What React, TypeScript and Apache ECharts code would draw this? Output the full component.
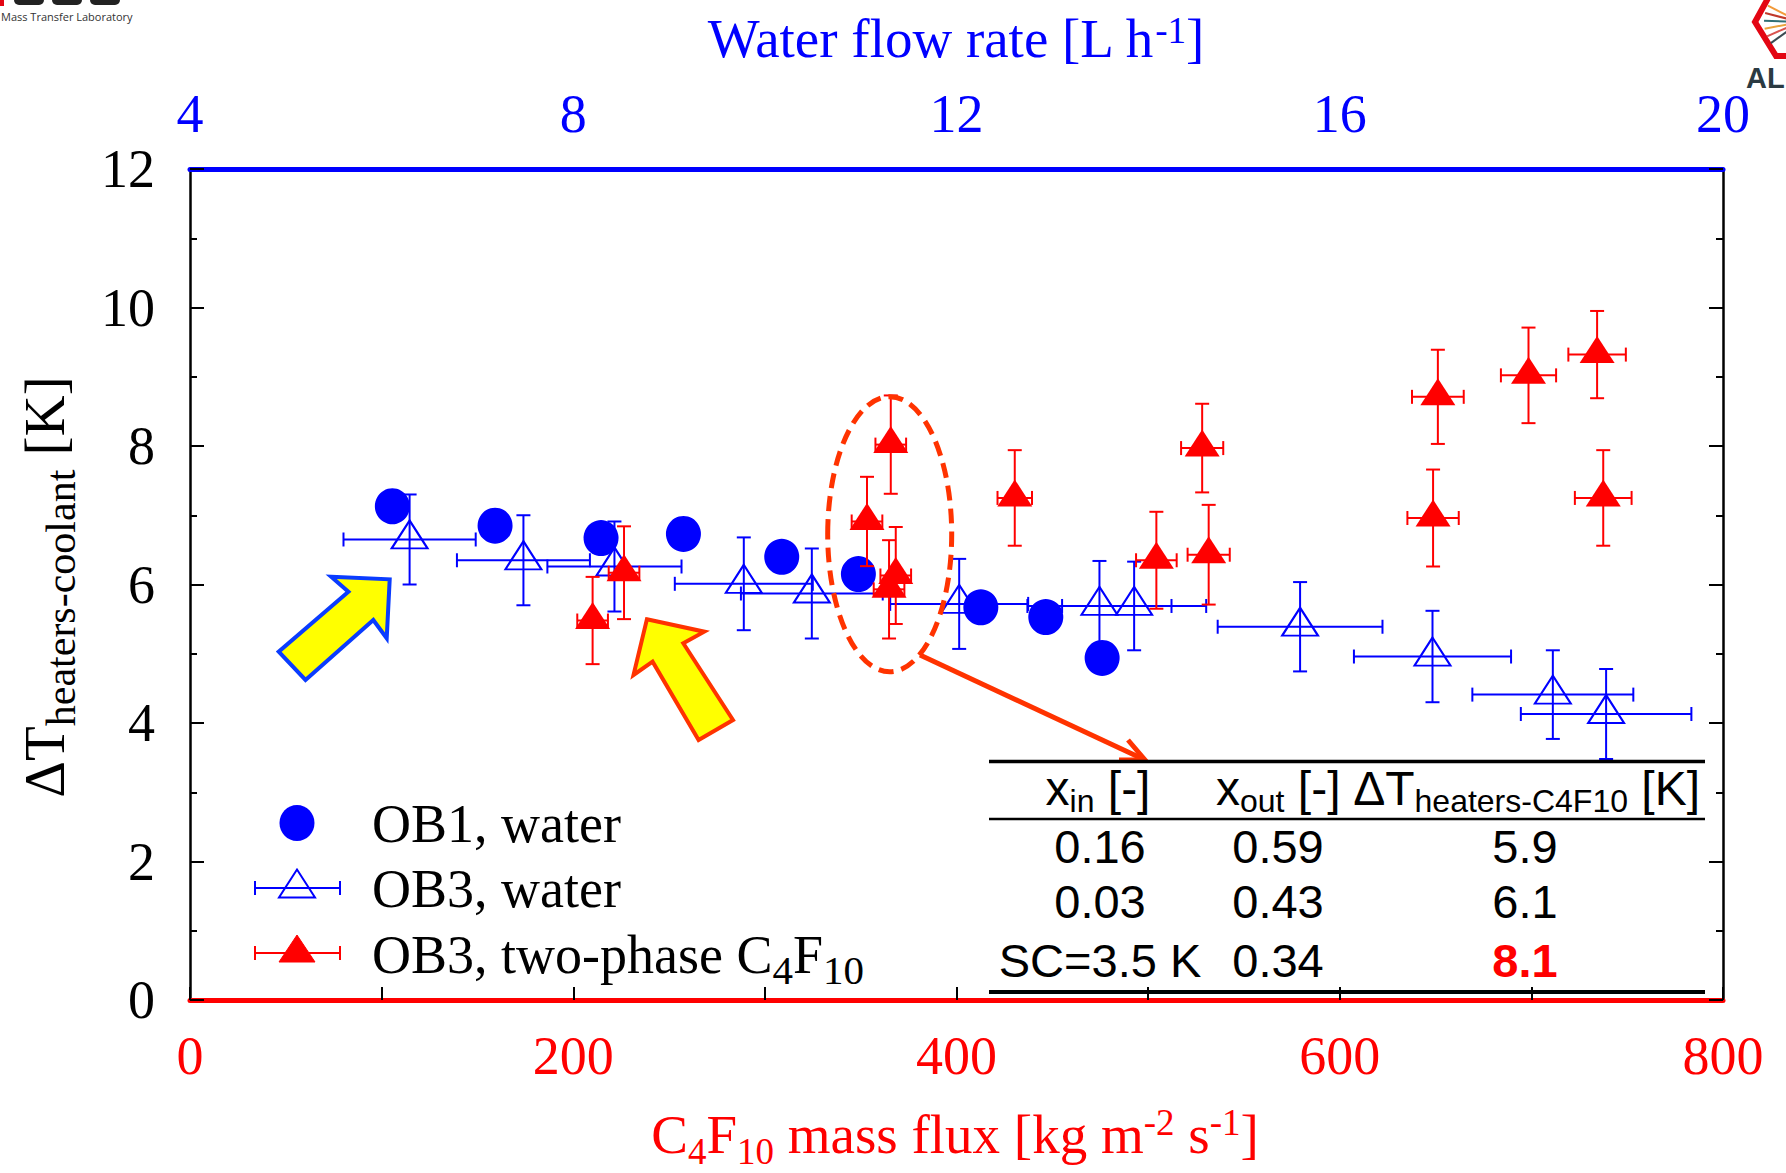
import React, { useEffect, useRef } from 'react';
import * as echarts from 'echarts';

const W = 1786;
const H = 1173;
const SERIF = '"Liberation Serif", "Times New Roman", serif';
const SANS = '"Liberation Sans", Arial, sans-serif';
const K_SERIF = 0.3375;
const K_SANS = 0.3465;

// ---- axis ticks ----
const fluxTicks = [0, 200, 400, 600, 800]; // C4F10 mass flux [kg m-2 s-1]
const flowTicks = [4, 8, 12, 16, 20]; // water flow rate [L/h]
const dtTicks = [0, 2, 4, 6, 8, 10, 12]; // ΔT [K]

// ---- OB1, water (filled circles) ----
const ob1Flux = [105.6, 159.2, 214.5, 257.5, 308.8, 348.8, 412.7, 446.6, 476.0];
const ob1DT = [7.13, 6.85, 6.67, 6.73, 6.4, 6.15, 5.67, 5.53, 4.94];

// ---- OB3, water (open triangles, x and y error bars) ----
const ob3wFlux = [114.6, 174.0, 221.5, 289.0, 324.5, 401.4, 474.6, 492.7, 579.3, 648.4, 711.2, 739.0];
const ob3wDT = [6.65, 6.35, 6.26, 6.01, 5.87, 5.72, 5.69, 5.69, 5.39, 4.96, 4.41, 4.13];
const ob3wFluxErr = [34.5, 34.7, 35, 36, 37, 36, 37.6, 37.6, 43, 41, 42, 44.5];
const ob3wDTErr = [0.65, 0.65, 0.65, 0.67, 0.65, 0.65, 0.65, 0.64, 0.645, 0.66, 0.64, 0.65];

// ---- OB3, two-phase C4F10 (filled triangles, x and y error bars) ----
const c4Flux = [210.1, 226.5, 353.3, 365.7, 368.3, 364.8, 430.4, 504.3, 528.2, 531.6, 648.7, 651.2, 698.5, 734.3, 737.5];
const c4DT = [5.48, 6.17, 6.91, 8.02, 6.13, 5.93, 7.25, 6.35, 7.97, 6.43, 6.96, 8.71, 9.02, 9.32, 7.25];
const c4FluxErr = [8, 8, 8, 8, 8, 8, 9, 10.6, 11, 11, 13.4, 13.5, 14.4, 15, 14.8];
const c4DTErr = [0.63, 0.67, 0.645, 0.71, 0.7, 0.71, 0.69, 0.7, 0.64, 0.72, 0.7, 0.68, 0.69, 0.63, 0.69];

// ---- inset table ----
const tableXin = ['0.16', '0.03', 'SC=3.5 K'];
const tableXout = ['0.59', '0.43', '0.34'];
const tableDT = ['5.9', '6.1', '8.1'];

type Seg = { t: string; s: number; dy?: number; c?: string; w?: string };

let mctx: CanvasRenderingContext2D | null = null;
function measure(t: string, s: number, fam: string, w = 'normal') {
  if (!mctx) mctx = document.createElement('canvas').getContext('2d');
  mctx!.font = `${w} ${s}px ${fam}`;
  return mctx!.measureText(t).width;
}

function richLine(
  segs: Seg[], fam: string, x: number, baseline: number,
  align: 'left' | 'center' | 'right', color: string, k: number, z = 50
) {
  const widths = segs.map((sg) => measure(sg.t, sg.s, fam, sg.w || 'normal'));
  const total = widths.reduce((a, b) => a + b, 0);
  let cx = align === 'left' ? x : align === 'center' ? x - total / 2 : x - total;
  const out: any[] = [];
  segs.forEach((sg, i) => {
    const lead = (sg.t.match(/^\s*/) as RegExpMatchArray)[0];
    const txt = sg.t.trim();
    const lw = lead ? measure(lead, sg.s, fam, sg.w || 'normal') : 0;
    out.push({
      type: 'text',
      x: cx + lw,
      y: baseline + (sg.dy || 0) - k * sg.s,
      z,
      style: {
        text: txt,
        fontSize: sg.s,
        fontFamily: fam,
        fontWeight: sg.w || 'normal',
        fill: sg.c || color,
        align: 'left',
        verticalAlign: 'middle',
        textAlign: 'left',
        textVerticalAlign: 'middle',
      },
    });
    cx += widths[i];
  });
  return out;
}

function errBarSeries(xs: number[], ys: number[], xe: number[], ye: number[], color: string, z: number) {
  return {
    type: 'custom',
    z,
    silent: true,
    data: xs.map((x, i) => [x, ys[i], xe[i], ye[i]]),
    encode: { x: 0, y: 1 },
    renderItem: (_p: any, api: any) => {
      const x = api.value(0);
      const y = api.value(1);
      const ex = api.value(2);
      const ey = api.value(3);
      const c = api.coord([x, y]);
      const l = api.coord([x - ex, y]);
      const r = api.coord([x + ex, y]);
      const t = api.coord([x, y + ey]);
      const b = api.coord([x, y - ey]);
      const cap = 7;
      const ln = (x1: number, y1: number, x2: number, y2: number) => ({
        type: 'line',
        shape: { x1, y1, x2, y2 },
        style: { stroke: color, lineWidth: 2 },
      });
      return {
        type: 'group',
        children: [
          ln(l[0], c[1], r[0], c[1]),
          ln(l[0], c[1] - cap, l[0], c[1] + cap),
          ln(r[0], c[1] - cap, r[0], c[1] + cap),
          ln(c[0], t[1], c[0], b[1]),
          ln(c[0] - cap, t[1], c[0] + cap, t[1]),
          ln(c[0] - cap, b[1], c[0] + cap, b[1]),
        ],
      };
    },
  };
}

function buildOption() {
  const BLUE = '#0000FF';
  const RED = '#FF0000';
  const ORANGE = '#FF3300';

  const yAxisBase = (pos: 'left' | 'right', showLabel: boolean) => ({
    type: 'value',
    position: pos,
    min: dtTicks[0],
    max: dtTicks[dtTicks.length - 1],
    interval: dtTicks[1] - dtTicks[0],
    axisLine: { show: true, onZero: false, lineStyle: { color: '#000', width: 2.5 } },
    axisTick: { show: true, inside: true, length: 14, lineStyle: { color: '#000', width: 2 } },
    minorTick: { show: true, splitNumber: 2, length: 7, lineStyle: { color: '#000', width: 2 } },
    splitLine: { show: false },
    axisLabel: { show: showLabel, color: '#000', fontSize: 54, fontFamily: SERIF, margin: 35 },
  });

  const graphic: any[] = [];

  // Axis titles
  graphic.push(
    ...richLine(
      [{ t: 'Water flow rate [L h', s: 55 }, { t: '-1', s: 37, dy: -14 }, { t: ']', s: 55 }],
      SERIF, 956, 57, 'center', BLUE, K_SERIF
    )
  );
  graphic.push(
    ...richLine(
      [
        { t: 'C', s: 55 }, { t: '4', s: 37, dy: 11 }, { t: 'F', s: 55 }, { t: '10', s: 37, dy: 11 },
        { t: ' mass flux [kg m', s: 55 }, { t: '-2', s: 37, dy: -18 }, { t: ' s', s: 55 },
        { t: '-1', s: 37, dy: -18 }, { t: ']', s: 55 },
      ],
      SERIF, 955, 1153, 'center', RED, K_SERIF
    )
  );
  graphic.push({
    type: 'group',
    x: 64,
    y: 587,
    rotation: Math.PI / 2,
    children: richLine(
      [{ t: '\u0394T', s: 57 }, { t: 'heaters-coolant', s: 42, dy: 11 }, { t: ' [K]', s: 57 }],
      SERIF, 0, 0, 'center', '#000', K_SERIF
    ),
  });

  // Legend
  graphic.push({ type: 'ellipse', z: 50, shape: { cx: 297, cy: 823, rx: 17.5, ry: 18 }, style: { fill: BLUE } });
  graphic.push(...richLine([{ t: 'OB1, water', s: 54 }], SERIF, 372, 842, 'left', '#000', K_SERIF));
  const legErr = (y: number, color: string) => [
    { type: 'line', z: 50, shape: { x1: 255, y1: y, x2: 340, y2: y }, style: { stroke: color, lineWidth: 2 } },
    { type: 'line', z: 50, shape: { x1: 255, y1: y - 7, x2: 255, y2: y + 7 }, style: { stroke: color, lineWidth: 2 } },
    { type: 'line', z: 50, shape: { x1: 340, y1: y - 7, x2: 340, y2: y + 7 }, style: { stroke: color, lineWidth: 2 } },
  ];
  graphic.push(...legErr(888, BLUE));
  graphic.push({
    type: 'polygon', z: 50,
    shape: { points: [[279, 897.5], [315, 897.5], [297, 869.5]] },
    style: { fill: 'none', stroke: BLUE, lineWidth: 2 },
  });
  graphic.push(...richLine([{ t: 'OB3, water', s: 54 }], SERIF, 372, 907, 'left', '#000', K_SERIF));
  graphic.push(...legErr(953, RED));
  graphic.push({
    type: 'polygon', z: 50,
    shape: { points: [[279, 962], [315, 962], [297, 935]] },
    style: { fill: RED, stroke: RED, lineWidth: 1 },
  });
  graphic.push(
    ...richLine(
      [{ t: 'OB3, two-phase C', s: 54 }, { t: '4', s: 41, dy: 11 }, { t: 'F', s: 54 }, { t: '10', s: 41, dy: 11 }],
      SERIF, 372, 973, 'left', '#000', K_SERIF
    )
  );

  // Table
  const tl = (y: number, w: number) => ({
    type: 'line', z: 50, shape: { x1: 989, y1: y, x2: 1705, y2: y }, style: { stroke: '#000', lineWidth: w },
  });
  graphic.push(tl(761.5, 3.5), tl(819, 2.5), tl(992, 4));
  graphic.push(
    ...richLine([{ t: 'x', s: 48 }, { t: 'in', s: 32, dy: 7 }, { t: ' [-]', s: 48 }], SANS, 1098, 805, 'center', '#000', K_SANS)
  );
  graphic.push(
    ...richLine([{ t: 'x', s: 48 }, { t: 'out', s: 32, dy: 7 }, { t: ' [-]', s: 48 }], SANS, 1216, 805, 'left', '#000', K_SANS)
  );
  graphic.push(
    ...richLine(
      [{ t: '\u0394T', s: 48 }, { t: 'heaters-C4F10', s: 32, dy: 7 }, { t: ' [K]', s: 48 }],
      SANS, 1700, 805, 'right', '#000', K_SANS
    )
  );
  const rowBase = [863, 918, 977];
  rowBase.forEach((b, i) => {
    graphic.push(...richLine([{ t: tableXin[i], s: 47 }], SANS, 1100, b, 'center', '#000', K_SANS));
    graphic.push(...richLine([{ t: tableXout[i], s: 47 }], SANS, 1278, b, 'center', '#000', K_SANS));
    const last = i === rowBase.length - 1;
    graphic.push(
      ...richLine([{ t: tableDT[i], s: 47, w: last ? 'bold' : 'normal' }], SANS, 1525, b, 'center', last ? RED : '#000', K_SANS)
    );
  });

  // Dashed ellipse and arrow
  graphic.push({
    type: 'ellipse', z: 45,
    shape: { cx: 889.7, cy: 534.2, rx: 62, ry: 137.5 },
    style: { fill: 'none', stroke: ORANGE, lineWidth: 5, lineDash: [15, 8] },
  });
  graphic.push({
    type: 'line', z: 45,
    shape: { x1: 920, y1: 655, x2: 1143, y2: 759 },
    style: { stroke: ORANGE, lineWidth: 5 },
  });
  graphic.push({
    type: 'polyline', z: 45,
    shape: { points: [[1128, 740], [1145, 760], [1119, 760]] },
    style: { stroke: ORANGE, lineWidth: 5, fill: 'none' },
  });

  // Yellow block arrows
  graphic.push({
    type: 'polygon', z: 45,
    shape: {
      points: [[331.2, 576.7], [389.7, 579.3], [386.7, 638.3], [373.3, 620], [305.5, 680], [278.7, 651.7], [348.4, 591.7]],
    },
    style: { fill: '#FFFF00', stroke: '#0A3CFF', lineWidth: 4, lineJoin: 'miter' },
  });
  graphic.push({
    type: 'polygon', z: 45,
    shape: {
      points: [[646.9, 619.3], [704.3, 631.7], [683.3, 643.3], [733, 720], [698.6, 740], [652.6, 661.7], [633.5, 675]],
    },
    style: { fill: '#FFFF00', stroke: ORANGE, lineWidth: 4, lineJoin: 'miter' },
  });

  // Partial logos at the corners (cropped in the source picture)
  graphic.push({ type: 'rect', z: 40, shape: { x: 0, y: 0, width: 4, height: 6 }, style: { fill: '#E30613' } });
  [[14, 30], [52, 30], [90, 30]].forEach(([x0, w0]) => {
    graphic.push({ type: 'rect', z: 40, shape: { x: x0, y: 0, width: w0, height: 5, r: [0, 0, 6, 6] }, style: { fill: '#222' } });
  });
  graphic.push(...richLine([{ t: 'Mass Transfer Laboratory', s: 11 }], '"Open Sans", sans-serif', 1, 20, 'left', '#333', 0.35, 40));
  graphic.push({
    type: 'polyline', z: 40,
    shape: { points: [[1778, -20], [1755, 22], [1776, 56], [1800, 56]] },
    style: { stroke: '#E30613', lineWidth: 6, fill: 'none' },
  });
  const sun = ['#F29A3A', '#C0392B', '#2F6F73', '#E8A33D', '#D9534F', '#3B4A52'];
  sun.forEach((c, i) => {
    const a = Math.PI * (0.85 + i * 0.07);
    graphic.push({
      type: 'line', z: 40,
      shape: { x1: 1800, y1: 22, x2: 1800 + 36 * Math.cos(a), y2: 22 - 36 * Math.sin(a) },
      style: { stroke: c, lineWidth: 2 },
    });
  });
  graphic.push(...richLine([{ t: 'AL', s: 29, w: 'bold' }], SANS, 1746, 88, 'left', '#2B3A42', K_SANS, 40));

  return {
    animation: false,
    backgroundColor: '#fff',
    grid: { left: 190, top: 169, width: 1533, height: 831, containLabel: false },
    xAxis: [
      {
        type: 'value',
        position: 'bottom',
        min: fluxTicks[0],
        max: fluxTicks[fluxTicks.length - 1],
        interval: fluxTicks[1] - fluxTicks[0],
        axisLine: { show: true, onZero: false, lineStyle: { color: RED, width: 5 } },
        axisTick: { show: true, inside: true, length: 13, lineStyle: { color: '#000', width: 2 } },
        minorTick: { show: true, splitNumber: 2, length: 13, lineStyle: { color: '#000', width: 2 } },
        splitLine: { show: false },
        axisLabel: { color: RED, fontSize: 54, fontFamily: SERIF, margin: 29 },
      },
      {
        type: 'value',
        position: 'top',
        min: flowTicks[0],
        max: flowTicks[flowTicks.length - 1],
        interval: flowTicks[1] - flowTicks[0],
        axisLine: { show: true, onZero: false, lineStyle: { color: BLUE, width: 5 } },
        axisTick: { show: false },
        splitLine: { show: false },
        axisLabel: { color: BLUE, fontSize: 54, fontFamily: SERIF, margin: 28 },
      },
    ],
    yAxis: [yAxisBase('left', true), yAxisBase('right', false)],
    series: [
      {
        type: 'scatter',
        name: 'OB1, water',
        z: 2,
        symbol: 'circle',
        symbolSize: [35, 36],
        itemStyle: { color: BLUE, opacity: 1 },
        data: ob1Flux.map((x, i) => [x, ob1DT[i]]),
      },
      errBarSeries(ob3wFlux, ob3wDT, ob3wFluxErr, ob3wDTErr, BLUE, 3),
      {
        type: 'scatter',
        name: 'OB3, water',
        z: 3,
        symbol: 'triangle',
        symbolSize: [36, 28],
        symbolOffset: [0, -5],
        itemStyle: { color: 'rgba(0,0,0,0)', borderColor: BLUE, borderWidth: 2, opacity: 1 },
        data: ob3wFlux.map((x, i) => [x, ob3wDT[i]]),
      },
      errBarSeries(c4Flux, c4DT, c4FluxErr, c4DTErr, RED, 4),
      {
        type: 'scatter',
        name: 'OB3, two-phase C4F10',
        z: 5,
        symbol: 'triangle',
        symbolSize: [35, 27],
        symbolOffset: [0, -5],
        itemStyle: { color: RED, opacity: 1 },
        data: c4Flux.map((x, i) => [x, c4DT[i]]),
      },
    ],
    graphic,
  };
}

export default function App() {
  const ref = useRef<HTMLDivElement>(null);
  useEffect(() => {
    document.body.style.margin = '0';
    if (!ref.current) return;
    const chart = echarts.init(ref.current, undefined, { renderer: 'svg', width: W, height: H });
    chart.setOption(buildOption() as any);
    return () => chart.dispose();
  }, []);
  return <div ref={ref} style={{ position: 'absolute', left: 0, top: 0, width: W, height: H, background: '#fff' }} />;
}
